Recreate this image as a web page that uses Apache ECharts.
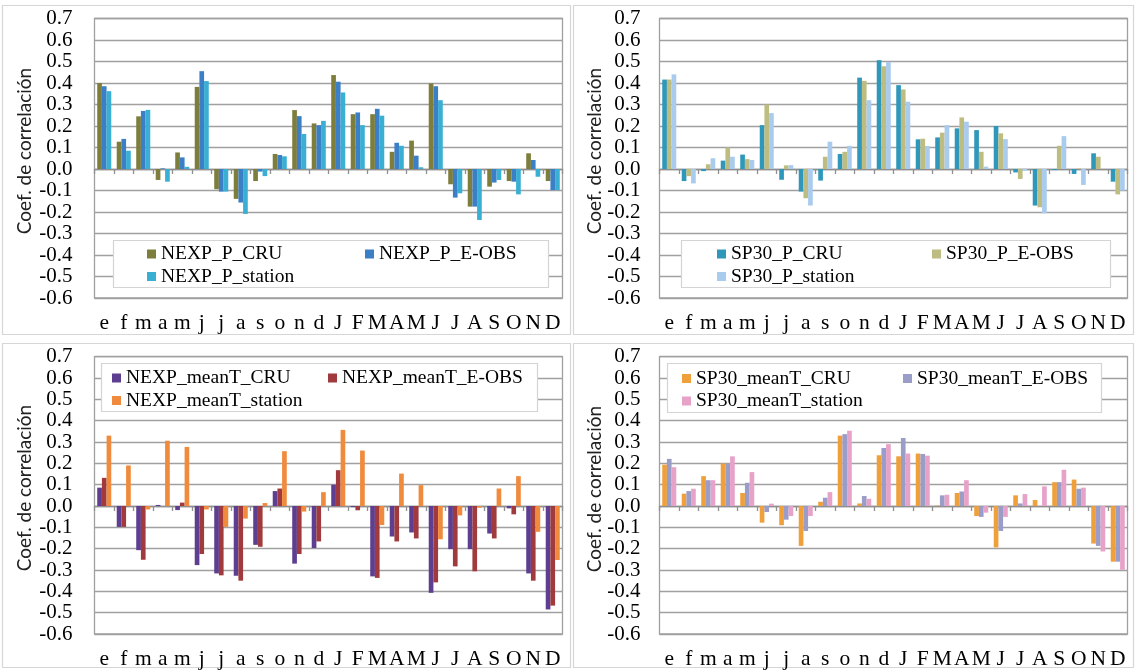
<!DOCTYPE html>
<html>
<head>
<meta charset="utf-8">
<script src="https://cdn.jsdelivr.net/npm/echarts@6/dist/echarts.min.js"></script>
<style>
  html, body { margin: 0; padding: 0; background: #fff; }
  #chart { width: 1135px; height: 670px; }
</style>
</head>
<body>
<div id="chart"></div>
<script>
// Month labels: first year in lower case, second year in upper case
const categories = ['e','f','m','a','m','j','j','a','s','o','n','d',
                    'J','F','M','A','M','J','J','A','S','O','N','D'];

// Correlation coefficients, NEXP precipitation
const nexpP_CRU     = [0.40, 0.127, 0.245, -0.051, 0.077, 0.382, -0.094, -0.139, -0.056, 0.07, 0.274, 0.212,
                       0.437, 0.255, 0.255, 0.08, 0.132, 0.398, -0.071, -0.175, -0.082, -0.056, 0.073, -0.056];
const nexpP_EOBS    = [0.385, 0.14, 0.27, 0.003, 0.054, 0.455, -0.105, -0.156, -0.012, 0.065, 0.246, 0.204,
                       0.406, 0.263, 0.28, 0.122, 0.062, 0.385, -0.133, -0.175, -0.063, -0.059, 0.042, -0.098];
const nexpP_station = [0.362, 0.085, 0.275, -0.059, 0.01, 0.409, -0.105, -0.209, -0.033, 0.059, 0.163, 0.224,
                       0.356, 0.204, 0.248, 0.108, 0.008, 0.32, -0.113, -0.237, -0.051, -0.118, -0.036, -0.098];

// Correlation coefficients, SP30 precipitation
const sp30P_CRU     = [0.416, -0.056, -0.01, 0.039, 0.067, 0.204, -0.05, -0.105, -0.054, 0.07, 0.425, 0.506,
                       0.39, 0.138, 0.147, 0.189, 0.181, 0.20, -0.016, -0.17, -0.005, -0.023, 0.073, -0.059];
const sp30P_EOBS    = [0.416, -0.033, 0.022, 0.10, 0.046, 0.30, 0.017, -0.136, 0.057, 0.08, 0.41, 0.478,
                       0.37, 0.141, 0.169, 0.24, 0.08, 0.166, -0.046, -0.178, 0.108, 0.002, 0.057, -0.118];
const sp30P_station = [0.44, -0.067, 0.05, 0.057, 0.042, 0.26, 0.018, -0.17, 0.127, 0.108, 0.32, 0.498,
                       0.313, 0.107, 0.204, 0.22, 0.011, 0.139, -0.008, -0.206, 0.153, -0.074, 0.0, -0.10];

// Correlation coefficients, NEXP mean temperature
const nexpT_CRU     = [0.086, -0.098, -0.207, 0.005, -0.019, -0.277, -0.316, -0.327, -0.182, 0.07, -0.27, -0.197,
                       0.10, -0.005, -0.33, -0.143, -0.124, -0.407, -0.202, -0.202, -0.129, -0.011, -0.316, -0.485];
const nexpT_EOBS    = [0.132, -0.098, -0.252, 0.0, 0.016, -0.225, -0.325, -0.35, -0.191, 0.082, -0.225, -0.166,
                       0.168, -0.02, -0.337, -0.166, -0.152, -0.358, -0.283, -0.306, -0.152, -0.039, -0.35, -0.467];
const nexpT_station = [0.33, 0.19, -0.016, 0.306, 0.277, -0.016, -0.098, -0.059, 0.014, 0.257, -0.026, 0.065,
                       0.357, 0.26, -0.089, 0.152, 0.098, -0.156, -0.044, -0.008, 0.082, 0.14, -0.121, -0.253];

// Correlation coefficients, SP30 mean temperature
const sp30T_CRU     = [0.194, 0.058, 0.14, 0.199, 0.061, -0.078, -0.09, -0.187, 0.02, 0.33, 0.012, 0.238,
                       0.233, 0.246, 0.002, 0.061, -0.047, -0.194, 0.05, 0.028, 0.112, 0.124, -0.176, -0.261];
const sp30T_EOBS    = [0.221, 0.07, 0.121, 0.198, 0.109, -0.028, -0.064, -0.117, 0.039, 0.337, 0.047, 0.272,
                       0.319, 0.244, 0.05, 0.068, -0.051, -0.117, 0.012, 0.0, 0.112, 0.081, -0.187, -0.261];
const sp30T_station = [0.182, 0.081, 0.121, 0.233, 0.159, 0.011, -0.047, -0.047, 0.065, 0.353, 0.034, 0.29,
                       0.246, 0.236, 0.053, 0.121, -0.031, -0.051, 0.056, 0.092, 0.17, 0.086, -0.213, -0.299];

// Y axis range and tick step
const yMin = -0.6, yMax = 0.7, yStep = 0.1;
const yTitle = 'Coef. de correlación';

const SERIF = '"Liberation Serif", "Times New Roman", serif';
const SANS = 'Lato, "Open Sans", sans-serif';
const GRID_GRAY = '#a0a0a0';

// Panel layout: plot rectangle, outer frame, legend frame and legend anchors
const panels = [
  { names: ['NEXP_P_CRU', 'NEXP_P_E-OBS', 'NEXP_P_station'],
    values: [nexpP_CRU, nexpP_EOBS, nexpP_station],
    colors: ['#7e7e3c', '#3b7fc6', '#3aafd4'],
    grid: { left: 94.5, top: 18.5, width: 468, height: 279.5 },
    frame: [2, 5, 568, 329], legendFrame: [113, 240, 435, 47],
    legA: [147, 244], legB: [365, 244], title: [25, 151], labelMargin: 22 },
  { names: ['SP30_P_CRU', 'SP30_P_E-OBS', 'SP30_P_station'],
    values: [sp30P_CRU, sp30P_EOBS, sp30P_station],
    colors: ['#2e97ba', '#bdbd82', '#a9cbee'],
    grid: { left: 659.5, top: 18.5, width: 468, height: 279.5 },
    frame: [573, 5, 560, 329], legendFrame: [681, 240, 429, 47],
    legA: [717, 244], legB: [932, 244], title: [595, 151], labelMargin: 19 },
  { names: ['NEXP_meanT_CRU', 'NEXP_meanT_E-OBS', 'NEXP_meanT_station'],
    values: [nexpT_CRU, nexpT_EOBS, nexpT_station],
    colors: ['#5d3e90', '#a13a3d', '#f08b3d'],
    grid: { left: 94.5, top: 356.7, width: 468, height: 278.3 },
    frame: [2, 343, 568, 324], legendFrame: [101, 363, 436, 48],
    legA: [112, 368], legB: [328, 368], title: [25, 488], labelMargin: 22 },
  { names: ['SP30_meanT_CRU', 'SP30_meanT_E-OBS', 'SP30_meanT_station'],
    values: [sp30T_CRU, sp30T_EOBS, sp30T_station],
    colors: ['#f0a03a', '#9b9dc9', '#e7a2c8'],
    grid: { left: 659.5, top: 356.7, width: 468, height: 278.3 },
    frame: [573, 343, 560, 324], legendFrame: [667, 363, 434, 49],
    legA: [682, 368.5], legB: [903, 368.5], title: [595, 489], labelMargin: 19 }
];

const grids = [], xAxes = [], yAxes = [], series = [], legends = [], graphics = [];

panels.forEach((p, i) => {
  grids.push(Object.assign({ show: true, borderColor: GRID_GRAY, borderWidth: 1.3,
                             backgroundColor: '#fff' }, p.grid));

  // bottom axis: month labels only
  xAxes.push({
    type: 'category', gridIndex: i, data: categories, position: 'bottom',
    axisLine: { show: false, onZero: false }, axisTick: { show: false },
    axisLabel: { interval: 0, fontFamily: SERIF, fontSize: 21.5, color: '#000', margin: 14 },
    splitLine: { show: false }
  });
  // zero line with boundary ticks pointing down
  xAxes.push({
    type: 'category', gridIndex: i, data: categories, position: 'top',
    axisLine: { show: true, onZero: true, lineStyle: { color: '#8f8f8f', width: 1.3 } },
    axisTick: { show: true, inside: true, length: 5, lineStyle: { color: '#8f8f8f', width: 1.3 } },
    axisLabel: { show: false }, splitLine: { show: false }
  });

  yAxes.push({
    type: 'value', gridIndex: i, min: yMin, max: yMax, interval: yStep,
    axisLine: { show: false }, axisTick: { show: false },
    axisLabel: { fontFamily: SERIF, fontSize: 21, color: '#000', margin: p.labelMargin,
                 showMinLabel: true, showMaxLabel: true, hideOverlap: false,
                 formatter: v => v.toFixed(1) },
    splitLine: { show: true, lineStyle: { color: GRID_GRAY, width: 1.3 } }
  });

  p.names.forEach((name, k) => {
    series.push({
      type: 'bar', name: name, xAxisIndex: 2 * i, yAxisIndex: i,
      data: p.values[k], barGap: '0%', barCategoryGap: '28%',
      itemStyle: { color: p.colors[k] }, z: 2
    });
  });

  const legendBase = {
    orient: 'vertical', icon: 'rect', itemWidth: 9, itemHeight: 9, itemGap: 2.5,
    padding: 0, selectedMode: false, z: 6,
    textStyle: { fontFamily: SERIF, fontSize: 19.5, color: '#000' }
  };
  legends.push(Object.assign({}, legendBase, { left: p.legA[0], top: p.legA[1],
                                               data: [p.names[0], p.names[2]] }));
  legends.push(Object.assign({}, legendBase, { left: p.legB[0], top: p.legB[1],
                                               data: [p.names[1]] }));

  // outer panel frame
  graphics.push({ type: 'rect', z: -10, silent: true,
    shape: { x: p.frame[0] + 0.5, y: p.frame[1] + 0.5, width: p.frame[2], height: p.frame[3] },
    style: { fill: 'none', stroke: '#d6d6d6', lineWidth: 1.2 } });
  // legend frame
  graphics.push({ type: 'rect', z: 5, silent: true,
    shape: { x: p.legendFrame[0] + 0.5, y: p.legendFrame[1] + 0.5,
             width: p.legendFrame[2], height: p.legendFrame[3] },
    style: { fill: '#fff', stroke: '#d4d4d4', lineWidth: 1.2 } });
  // y axis title
  graphics.push({ type: 'text', z: 5, silent: true, x: p.title[0], y: p.title[1],
    rotation: Math.PI / 2,
    style: { text: yTitle, fill: '#222', font: '19px ' + SANS,
             align: 'center', verticalAlign: 'middle' } });
});

const chart = echarts.init(document.getElementById('chart'), null, { renderer: 'canvas' });
chart.setOption({
  animation: false,
  backgroundColor: '#fff',
  grid: grids, xAxis: xAxes, yAxis: yAxes, legend: legends,
  series: series, graphic: graphics
});
</script>
</body>
</html>
